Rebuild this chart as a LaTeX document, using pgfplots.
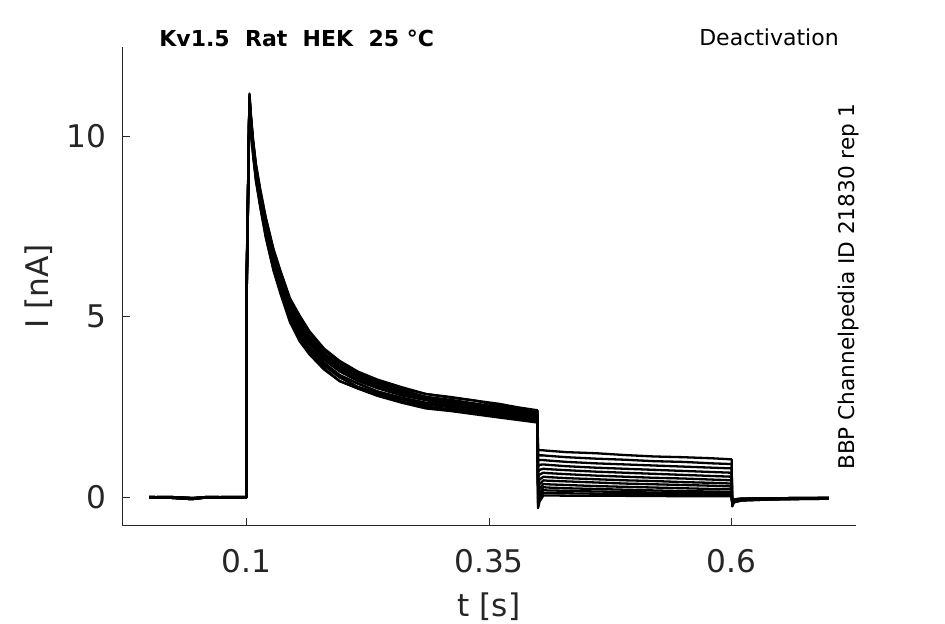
\documentclass[border=0pt]{standalone}
\usepackage{fontspec}
\setmainfont{DejaVu Sans}
\usepackage{pgfplots}
\usepackage{pgfplotstable}
\pgfplotsset{compat=1.18}
\definecolor{axgray}{HTML}{262626}

\pgfplotstableread{
t      y1    y2    y3    y4    y5    y6    y7    y8    y9    y10   y11   y12   y13
0.000  0.01  0.00  -0.01 0.01  0.00  -0.01 0.01  0.00  -0.01 0.01  0.00  -0.01 0.01
0.020  -0.01 0.01  0.00  -0.01 0.01  0.00  -0.01 0.01  0.00  -0.01 0.01  0.00  -0.01
0.044  -0.05 -0.02 -0.03 -0.05 -0.02 -0.03 -0.05 -0.02 -0.03 -0.05 -0.02 -0.03 -0.05
0.060  0.00  -0.01 0.01  0.00  -0.01 0.01  0.00  -0.01 0.01  0.00  -0.01 0.01  0.00
0.080  -0.01 0.01  0.00  -0.01 0.01  0.00  -0.01 0.01  0.00  -0.01 0.01  0.00  -0.01
0.0999 0.00  0.01  -0.01 0.00  0.01  -0.01 0.00  0.01  -0.01 0.00  0.01  -0.01 0.00
0.1002 5.5   5.3   5.7   5.2   5.5   5.6   5.4   5.5   5.8   5.2   5.6   5.3   5.6
0.1033 11.18 10.95 11.05 10.90 11.00 11.10 10.97 11.02 11.15 10.88 11.04 10.93 11.08
0.1045 10.68 10.45 10.55 10.40 10.50 10.60 10.47 10.52 10.65 10.38 10.54 10.43 10.58
0.107  9.90  9.55  9.76  9.50  9.70  9.82  9.61  9.67  9.87  9.47  9.73  9.58  9.79
0.110  9.22  8.84  9.06  8.78  9.00  9.13  8.91  8.97  9.19  8.75  9.03  8.87  9.09
0.1144 8.53  8.13  8.37  8.07  8.30  8.43  8.20  8.27  8.50  8.03  8.33  8.17  8.40
0.120  7.76  7.31  7.58  7.24  7.50  7.65  7.39  7.46  7.73  7.20  7.54  7.35  7.61
0.128  6.88  6.40  6.68  6.32  6.60  6.76  6.48  6.56  6.84  6.28  6.64  6.44  6.72
0.135  6.29  5.79  6.08  5.71  6.00  6.17  5.87  5.96  6.25  5.66  6.04  5.83  6.13
0.145  5.51  4.98  5.29  4.89  5.20  5.38  5.07  5.16  5.47  4.85  5.24  5.02  5.33
0.155  5.03  4.46  4.79  4.37  4.70  4.89  4.56  4.65  4.98  4.32  4.75  4.51  4.84
0.165  4.60  4.08  4.39  4.00  4.30  4.47  4.17  4.26  4.56  3.96  4.34  4.13  4.43
0.180  4.12  3.66  3.93  3.58  3.85  4.00  3.73  3.81  4.08  3.54  3.86  3.70  3.97
0.196  3.78  3.32  3.60  3.22  3.50  3.64  3.39  3.49  3.71  3.22  3.54  3.36  3.61
0.215  3.48  3.06  3.32  3.02  3.25  3.41  3.15  3.22  3.45  3.01  3.28  3.15  3.35
0.235  3.26  2.89  3.11  2.84  3.08  3.17  2.93  3.02  3.20  2.81  3.08  2.93  3.14
0.260  3.05  2.71  2.91  2.65  2.85  2.96  2.76  2.82  3.02  2.62  2.88  2.74  2.97
0.285  2.86  2.56  2.73  2.51  2.70  2.78  2.62  2.69  2.86  2.46  2.73  2.59  2.78
0.310  2.78  2.50  2.65  2.44  2.57  2.70  2.55  2.57  2.76  2.39  2.63  2.50  2.68
0.335  2.68  2.37  2.55  2.32  2.50  2.60  2.42  2.47  2.68  2.30  2.51  2.38  2.56
0.360  2.59  2.28  2.47  2.23  2.42  2.50  2.33  2.38  2.54  2.21  2.42  2.30  2.47
0.380  2.49  2.21  2.38  2.17  2.33  2.42  2.26  2.31  2.47  2.14  2.35  2.24  2.40
0.3999 2.41  2.14  2.30  2.09  2.25  2.34  2.18  2.23  2.39  2.07  2.27  2.16  2.32
0.4005 1.02  0.25  1.33  -0.15 0.55  -0.30 1.18  -0.05 0.70  -0.22 0.85  0.10  0.40
0.402  1.03  0.36  1.30  0.03  0.63  -0.12 1.16  0.12  0.76  -0.05 0.90  0.24  0.49
0.406  1.03  0.47  1.30  0.20  0.68  0.05  1.16  0.28  0.79  0.12  0.91  0.37  0.57
0.410  1.02  0.46  1.29  0.19  0.67  0.05  1.15  0.27  0.78  0.12  0.90  0.36  0.56
0.430  0.98  0.44  1.25  0.18  0.64  0.045 1.11  0.25  0.75  0.11  0.86  0.34  0.53
0.460  0.94  0.41  1.22  0.16  0.60  0.04  1.07  0.23  0.71  0.10  0.82  0.31  0.50
0.490  0.91  0.38  1.17  0.15  0.57  0.04  1.04  0.21  0.68  0.09  0.79  0.29  0.47
0.520  0.88  0.36  1.13  0.13  0.54  0.035 1.00  0.19  0.65  0.08  0.76  0.27  0.45
0.550  0.85  0.34  1.11  0.12  0.52  0.03  0.98  0.17  0.62  0.07  0.73  0.25  0.42
0.580  0.82  0.32  1.08  0.11  0.49  0.03  0.94  0.16  0.59  0.065 0.70  0.23  0.40
0.5999 0.80  0.30  1.05  0.10  0.47  0.03  0.92  0.15  0.57  0.06  0.68  0.22  0.38
0.6005 -0.25 -0.10 -0.25 -0.10 -0.22 -0.10 -0.22 -0.10 -0.15 -0.15 -0.22 -0.15 -0.15
0.602  -0.14 -0.06 -0.14 -0.06 -0.12 -0.06 -0.12 -0.06 -0.09 -0.09 -0.12 -0.09 -0.09
0.610  -0.09 -0.04 -0.09 -0.04 -0.07 -0.04 -0.07 -0.04 -0.05 -0.05 -0.07 -0.05 -0.05
0.640  -0.06 -0.03 -0.06 -0.03 -0.05 -0.03 -0.05 -0.03 -0.04 -0.04 -0.05 -0.04 -0.04
0.670  -0.05 -0.02 -0.05 -0.02 -0.04 -0.02 -0.04 -0.02 -0.03 -0.03 -0.04 -0.03 -0.03
0.700  -0.04 -0.02 -0.04 -0.02 -0.03 -0.02 -0.03 -0.02 -0.02 -0.02 -0.03 -0.02 -0.02
}\traces

\begin{document}
\begin{tikzpicture}
\useasboundingbox (0,0) rectangle (472.5pt,312pt);
\begin{axis}[
  at={(61pt,49pt)}, anchor=south west,
  scale only axis, width=367pt, height=239.5pt,
  xmin=-0.028, xmax=0.728, ymin=-0.795, ymax=12.47,
  axis x line*=bottom, axis y line*=left,
  axis line style={-, draw=axgray, line width=0.5pt},
  xtick={0.1,0.35,0.6}, ytick={0,5,10},
  xticklabels={0.1,0.35,0.6},
  tick align=inside, major tick length=3.9pt,
  tick style={draw=axgray, line width=0.5pt},
  /pgf/number format/assume math mode=true,
  ticklabel style={font=\fontsize{15.6}{18}\selectfont, text=axgray, inner sep=0pt},
  xticklabel style={anchor=base, yshift=-23.3pt},
  yticklabel style={anchor=east, xshift=-7.5pt},
  xlabel={t [s]}, ylabel={I [nA]},
  label style={font=\fontsize{15.6}{18}\selectfont, text=axgray, inner sep=0pt},
  xlabel style={at={(axis description cs:0.5,-0.1879)}, anchor=base},
  ylabel style={at={(axis description cs:-0.0995,0.5)}, anchor=base, rotate=0},
  clip=false,
]
\pgfplotsinvokeforeach{1,...,13}{
  \addplot[black, line width=1.15pt, line join=round] table[x=t, y=y#1] {\traces};
}
\node[anchor=base west, inner sep=0pt, font=\fontsize{11}{13}\selectfont\bfseries] at (rel axis cs:0.0504,1.001) {Kv1.5\ \ Rat\ \ HEK\ \ 25 °C};
\node[anchor=base east, inner sep=0pt, font=\fontsize{11}{13}\selectfont] at (rel axis cs:0.977,1.003) {Deactivation};
\node[rotate=90, anchor=base, inner sep=0pt, font=\fontsize{10.8}{13}\selectfont] at (rel axis cs:0.9986,0.5) {BBP Channelpedia ID 21830 rep 1};
\end{axis}
\end{tikzpicture}
\end{document}
